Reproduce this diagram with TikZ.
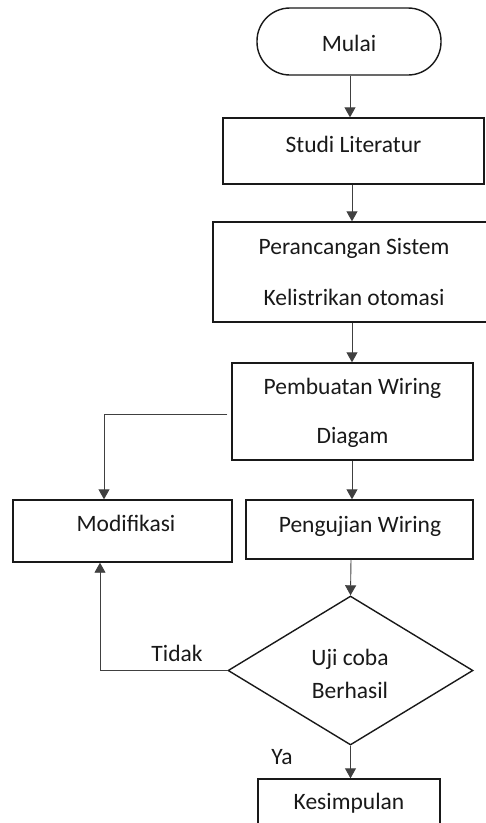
\documentclass[tikz,border=0pt]{standalone}
\usepackage{fontspec}
\setmainfont{Carlito}
\usetikzlibrary{shapes.geometric,arrows.meta}
\tikzset{
  box/.style={draw=black!90, line width=1.4pt, rectangle, inner sep=0pt},
  txt/.style={inner sep=0pt, font=\fontsize{23.5}{28}\selectfont, text=black!90},
  arr/.style={draw=black!75, line width=0.9pt, -{Triangle[width=11pt,length=10pt]}},
  ln/.style={draw=black!65, line width=1pt},
}
\begin{document}
\begin{tikzpicture}[x=1pt,y=-1pt]
\useasboundingbox (0,0) rectangle (486,823);
% boxes
\node[box, rounded corners=33pt, minimum width=184pt, minimum height=67pt] (mulai) at (349,41.5) {};
\node[txt] (mulaiT) at (349,43) {Mulai};
\node[box, minimum width=261pt, minimum height=66pt] (studi) at (353.5,151) {};
\node[txt] (studiT) at (353.5,144) {Studi Literatur};
\node[box, minimum width=277pt, minimum height=100pt] (peran) at (351.5,272) {};
\node[txt] (peranA) at (354,248) {Perancangan Sistem};
\node[txt] (peranB) at (354,297) {Kelistrikan otomasi};
\node[box, minimum width=241pt, minimum height=97pt] (pemb) at (352.5,411.5) {};
\node[txt] (pembA) at (352.5,388) {Pembuatan Wiring};
\node[txt] (pembB) at (352.5,437) {Diagam};
\node[box, minimum width=219pt, minimum height=62pt] (modif) at (122.5,531) {};
\node[txt] (modifT) at (126,523) {Modifikasi};
\node[box, minimum width=227pt, minimum height=59pt] (uji) at (359.5,529.5) {};
\node[txt] (ujiT) at (360,526) {Pengujian Wiring};
\node[box, diamond, minimum width=245pt, minimum height=149pt] (dia) at (350.5,670.5) {};
\node[txt] (diaA) at (350,659) {Uji coba};
\node[txt] (diaB) at (350,690) {Berhasil};
\node[box, minimum width=182pt, minimum height=60pt] (kes) at (349,809) {};
\node[txt] (kesT) at (349,803) {Kesimpulan};
% labels
\node[txt] (tidak) at (177,653) {Tidak};
\node[txt] (ya) at (282,757) {Ya};
% connectors
\draw[arr] ([xshift=1pt]mulai.south) -- ([xshift=1pt]mulai.south |- studi.north);
\draw[arr] ([xshift=-1.5pt]studi.south) -- ([xshift=-1.5pt]studi.south |- peran.north);
\draw[arr] ([xshift=0.5pt]peran.south) -- ([xshift=0.5pt]peran.south |- pemb.north);
\draw[arr] ([xshift=-0.5pt]pemb.south) -- ([xshift=-0.5pt]pemb.south |- uji.north);
\draw[arr] ([xshift=-8.5pt]uji.south) -- (dia.north);
\draw[arr] (dia.south) -- (dia.south |- kes.north);
\draw[arr] ([xshift=-4pt,yshift=-3pt]pemb.west) -| ([xshift=-18.5pt]modif.north);
\draw[arr] (dia.west) -| ([xshift=-22.5pt]modif.south);
\end{tikzpicture}
\end{document}
